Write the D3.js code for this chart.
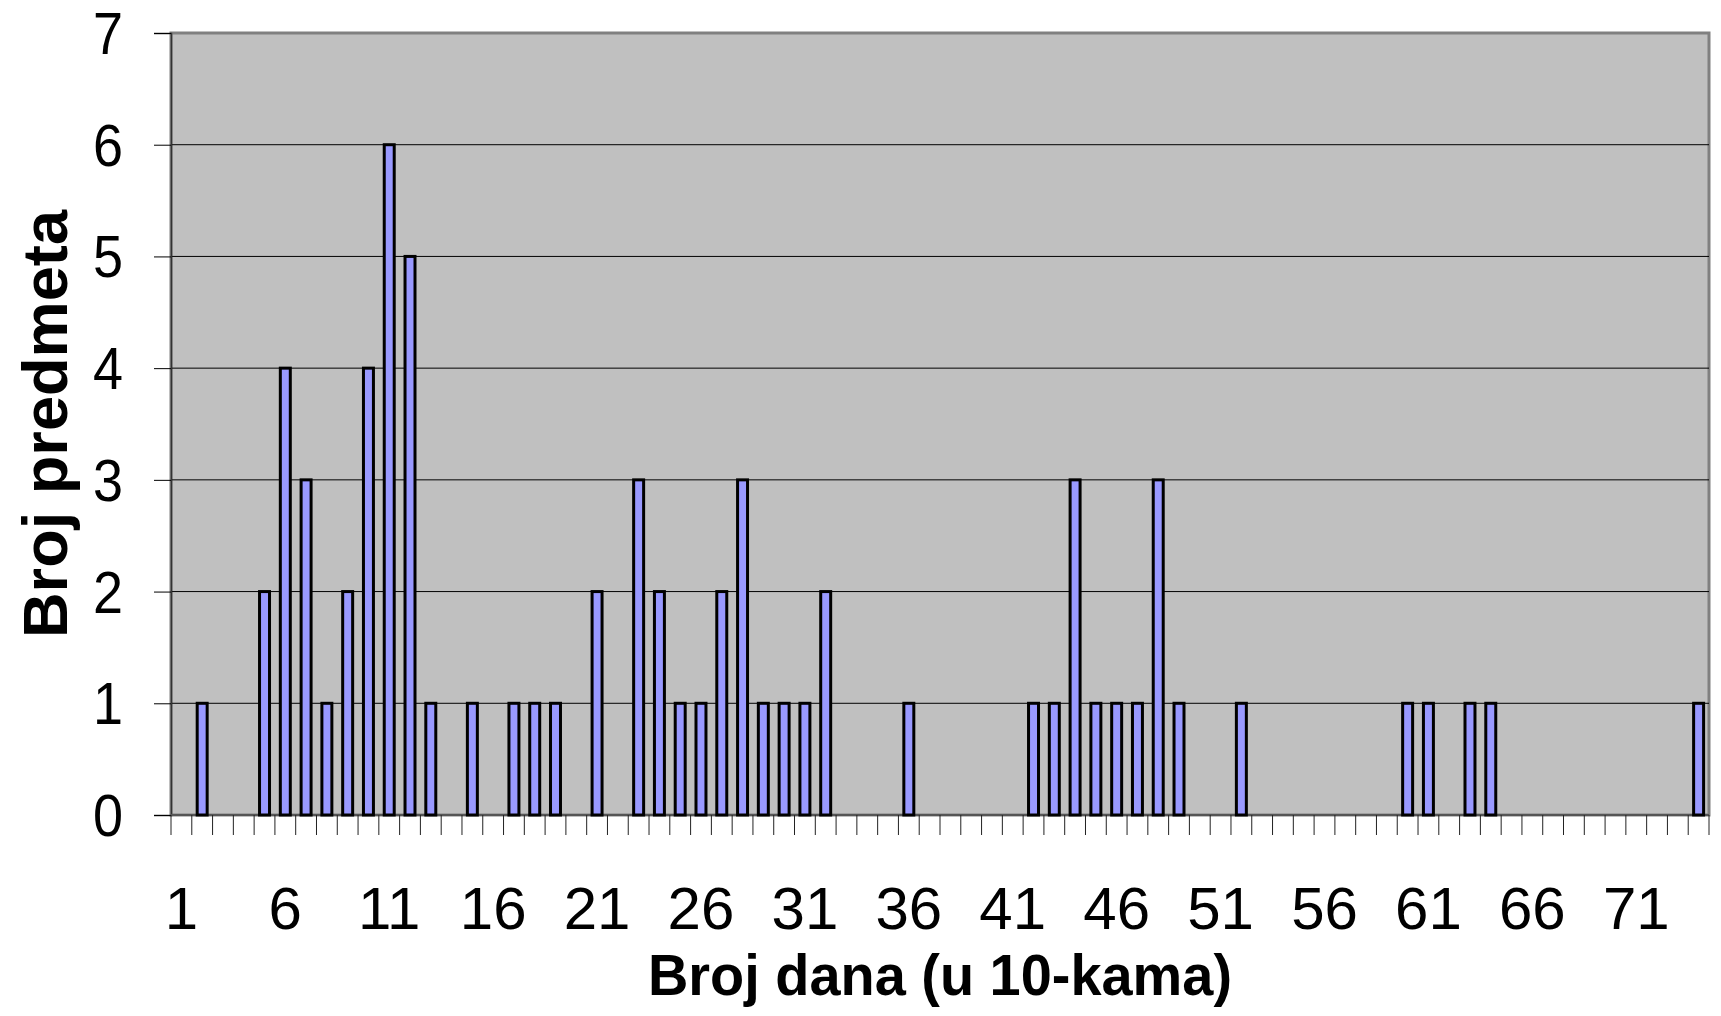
<!DOCTYPE html>
<html>
<head>
<meta charset="utf-8">
<script src="https://cdn.jsdelivr.net/npm/d3@7"></script>
<style>
  body { margin: 0; background: #ffffff; }
  text { font-family: "Liberation Sans", Arial, sans-serif; fill: #000; }
</style>
</head>
<body>
<div id="chart"></div>
<script>
// categories: number of days (in tens)
var categories = [1, 2, 3, 4, 5, 6, 7, 8, 9, 10, 11, 12, 13, 14, 15, 16, 17, 18, 19, 20,
    21, 22, 23, 24, 25, 26, 27, 28, 29, 30, 31, 32, 33, 34, 35, 36, 37, 38, 39, 40,
    41, 42, 43, 44, 45, 46, 47, 48, 49, 50, 51, 52, 53, 54, 55, 56, 57, 58, 59, 60,
    61, 62, 63, 64, 65, 66, 67, 68, 69, 70, 71, 72, 73, 74];

// number of cases for each category
var counts = [0, 1, 0, 0, 2, 4, 3, 1, 2, 4, 6, 5, 1, 0, 1, 0, 1, 1, 1, 0,
    2, 0, 3, 2, 1, 1, 2, 3, 1, 1, 1, 2, 0, 0, 0, 1, 0, 0, 0, 0,
    0, 1, 1, 3, 1, 1, 1, 3, 1, 0, 0, 1, 0, 0, 0, 0, 0, 0, 0, 1,
    1, 0, 1, 1, 0, 0, 0, 0, 0, 0, 0, 0, 0, 1];

var xTickLabels = [1, 6, 11, 16, 21, 26, 31, 36, 41, 46, 51, 56, 61, 66, 71];
var yTicks = [0, 1, 2, 3, 4, 5, 6, 7];

var xTitle = "Broj dana (u 10-kama)";
var yTitle = "Broj predmeta";

var data = categories.map(function (c, i) { return { cat: c, value: counts[i] }; });

// set the dimensions and margins of the graph
var margin = { top: 33, right: 12, bottom: 201, left: 171 },
    width = 1721 - margin.left - margin.right,
    height = 1016 - margin.top - margin.bottom;

var svg = d3.select("#chart")
    .append("svg")
    .attr("width", width + margin.left + margin.right)
    .attr("height", height + margin.top + margin.bottom)
    .append("g")
    .attr("transform", "translate(" + margin.left + "," + margin.top + ")");

// scales: outer padding = half the inner one, so every category gets the same step
var x = d3.scaleBand()
    .domain(categories)
    .range([0, width])
    .paddingInner(0.52)
    .paddingOuter(0.26);

var y = d3.scaleLinear()
    .domain([0, 7])
    .range([height, 0]);

var step = x.step();

// plot area
svg.append("rect")
    .attr("width", width)
    .attr("height", height)
    .style("fill", "#c0c0c0")
    .style("stroke", "#808080")
    .style("stroke-width", 3);

// gridlines
svg.append("g")
    .selectAll("line")
    .data(yTicks.filter(function (d) { return d > 0 && d < 7; }))
    .enter()
    .append("line")
    .attr("x1", 0)
    .attr("x2", width)
    .attr("y1", function (d) { return y(d); })
    .attr("y2", function (d) { return y(d); })
    .style("stroke", "#000")
    .style("stroke-width", 1);

// Y axis
var yAxis = svg.append("g")
    .call(d3.axisLeft(y).tickValues(yTicks).tickSize(17).tickFormat(""));
yAxis.select(".domain").style("stroke", "#333").style("stroke-width", 1.5);
yAxis.selectAll(".tick line").style("stroke", "#000");

// Y tick labels (the original text is a bit stretched vertically)
svg.append("g")
    .selectAll("text")
    .data(yTicks)
    .enter()
    .append("text")
    .attr("text-anchor", "end")
    .attr("transform", function (d) { return "translate(-48," + (y(d) + 21) + ") scale(1,1.1)"; })
    .style("font-size", "54px")
    .text(function (d) { return d; });

// X axis: ticks on category boundaries
var xAxis = svg.append("g")
    .attr("transform", "translate(0," + height + ")");
xAxis.append("line")
    .attr("x1", 0)
    .attr("x2", width)
    .style("stroke", "#555")
    .style("stroke-width", 2);
xAxis.selectAll(".xtick")
    .data(d3.range(categories.length + 1))
    .enter()
    .append("line")
    .attr("class", "xtick")
    .attr("x1", function (i) { return i * step; })
    .attr("x2", function (i) { return i * step; })
    .attr("y1", 0)
    .attr("y2", 20)
    .style("stroke", "#222")
    .style("stroke-width", 1);

// X tick labels
svg.append("g")
    .selectAll("text")
    .data(xTickLabels)
    .enter()
    .append("text")
    .attr("text-anchor", "middle")
    .attr("x", function (d) { return x(d) + x.bandwidth() / 2; })
    .attr("y", height + 114)
    .style("font-size", "60px")
    .text(function (d) { return d; });

// bars
svg.append("g")
    .selectAll("rect")
    .data(data.filter(function (d) { return d.value > 0; }))
    .enter()
    .append("rect")
    .attr("x", function (d) { return x(d.cat); })
    .attr("y", function (d) { return y(d.value); })
    .attr("width", x.bandwidth())
    .attr("height", function (d) { return height - y(d.value); })
    .style("fill", "#9999ff")
    .style("stroke", "#000")
    .style("stroke-width", 3);

// X axis title
svg.append("text")
    .attr("text-anchor", "middle")
    .attr("x", width / 2)
    .attr("y", height + 180)
    .style("font-size", "57px")
    .style("font-weight", "bold")
    .attr("textLength", 584)
    .attr("lengthAdjust", "spacingAndGlyphs")
    .text(xTitle);

// Y axis title
svg.append("text")
    .attr("text-anchor", "middle")
    .attr("transform", "rotate(-90)")
    .attr("x", -height / 2)
    .attr("y", -104)
    .style("font-size", "63px")
    .style("font-weight", "bold")
    .attr("textLength", 428)
    .attr("lengthAdjust", "spacingAndGlyphs")
    .text(yTitle);
</script>
</body>
</html>
